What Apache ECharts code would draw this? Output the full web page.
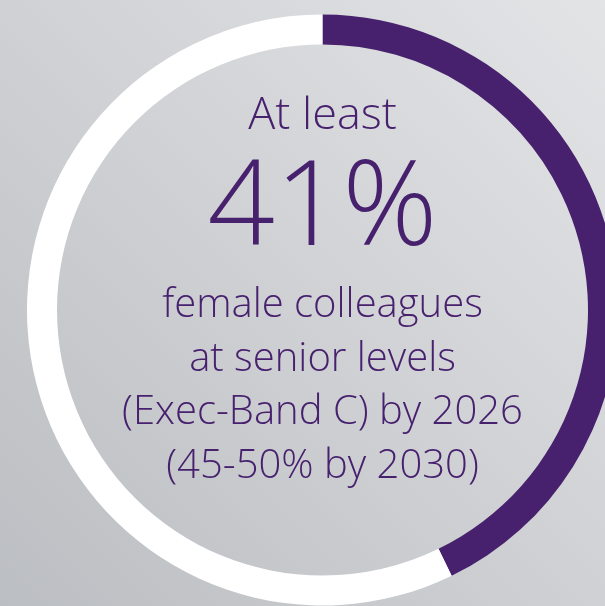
<!DOCTYPE html>
<html>
<head>
<meta charset="utf-8">
<script src="https://cdn.jsdelivr.net/npm/echarts@6/dist/echarts.min.js"></script>
<style>
html,body{margin:0;padding:0;}
#c{width:605px;height:606px;}
</style>
</head>
<body>
<div id="c"></div>
<script>
// Data
const categories = ['Female (senior levels)', 'Other'];
const values = [42.8, 57.2];          // arc share as drawn
const headline = 'At least';
const bigValue = '41%';
const bodyLines = ['female colleagues', 'at senior levels', '(Exec-Band C) by 2026', '(45-50% by 2030)'];

const PURPLE = '#47206e';
const FONT = '"Open Sans", Lato, sans-serif';
const cx = 322.5, cy = 310;

const chart = echarts.init(document.getElementById('c'), null, {renderer: 'canvas'});

const textEls = [];
textEls.push({type: 'text', x: cx, y: 116.5, style: {text: headline, fill: PURPLE, font: '300 45px ' + FONT, textAlign: 'center', textVerticalAlign: 'middle'}});
textEls.push({type: 'text', x: cx, y: 211, style: {text: bigValue, fill: PURPLE, font: '300 118px ' + FONT, textAlign: 'center', textVerticalAlign: 'middle'}});
const bodyY = [306, 359.5, 413, 467];
bodyLines.forEach((t, i) => {
  textEls.push({type: 'text', x: cx, y: bodyY[i], style: {text: t, fill: PURPLE, font: '300 40px ' + FONT, textAlign: 'center', textVerticalAlign: 'middle'}});
});

chart.setOption({
  animation: false,
  backgroundColor: {
    type: 'linear', x: 1, y: 0, x2: 0, y2: 1,
    colorStops: [{offset: 0, color: '#e3e4e6'}, {offset: 1, color: '#bbbec2'}]
  },
  series: [{
    type: 'pie',
    center: [cx, cy],
    radius: [265.5, 295.5],
    startAngle: 90,
    clockwise: true,
    silent: true,
    label: {show: false},
    labelLine: {show: false},
    itemStyle: {borderWidth: 0},
    data: categories.map((n, i) => ({name: n, value: values[i], itemStyle: {color: i === 0 ? PURPLE : '#ffffff'}}))
  }],
  graphic: textEls
});
</script>
</body>
</html>
